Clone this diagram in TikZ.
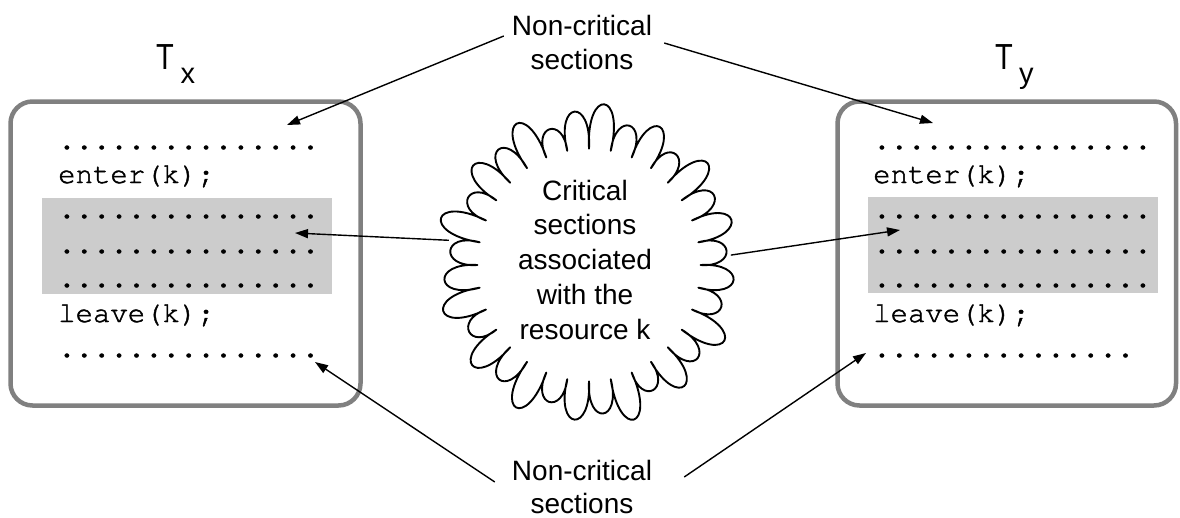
\documentclass[tikz,border=0pt]{standalone}
\usepackage{fontspec}
\setmainfont{Liberation Sans}
\setmonofont[FakeBold=1.6]{TeX Gyre Cursor}
\usetikzlibrary{shapes.geometric,arrows.meta}

\begin{document}
\begin{tikzpicture}[x=1pt,y=-1pt,
  lbl/.style={font=\fontsize{28}{34}\selectfont, align=center, inner sep=0pt},
  code/.style={font=\fontsize{29}{34}\selectfont\ttfamily, anchor=base west, inner sep=0pt},
  title/.style={font=\fontsize{29}{29}\selectfont, anchor=base west, inner sep=0pt},
  ptr/.style={line width=1.4pt, -{Triangle[length=13pt,width=9pt]}},
  thread/.style={draw=black!50, line width=4.5pt, rounded corners=22pt, inner sep=0pt},
  crit/.style={fill=black!20, draw=none, inner sep=0pt},
  burst/.style={line width=1.9pt, line join=round}]

\useasboundingbox (0,0) rectangle (1180,517);

% thread boxes
\node[thread, minimum width=350pt, minimum height=304pt] (tx) at (185.5,253.5) {};
\node[thread, minimum width=338.5pt, minimum height=304pt] (ty) at (1006.75,253.5) {};

% critical regions
\node[crit, minimum width=290pt, minimum height=96pt] (cx) at (187,246) {};
\node[crit, minimum width=290pt, minimum height=96pt] (cy) at (1013,245) {};

% thread names
\node[title] (txT) at (156,69) {\scalebox{1}[1.25]{T}};
\node[title] (txs) at (180.5,83) {x};
\node[title] (tyT) at (995,69) {\scalebox{1}[1.25]{T}};
\node[title] (tys) at (1019,83) {y};

% code lines of T_x
\foreach \i/\y/\t in {1/149/{...............},
                      2/183/{enter(k);},
                      3/218/{...............},
                      4/253/{...............},
                      5/287/{...............},
                      6/322/{leave(k);},
                      7/357/{...............}}
  \node[code] (L\i) at (58,\y) {\t};

% code lines of T_y
\foreach \i/\y/\t in {1/149/{................},
                      2/183/{enter(k);},
                      3/218/{................},
                      4/253/{................},
                      5/287/{................},
                      6/322/{leave(k);},
                      7/357/{...............}}
  \node[code] (R\i) at (873,\y) {\t};

% resource: an invisible ellipse carries the anchors, the lobed outline is drawn round it
\node[ellipse, minimum width=284pt, minimum height=296pt, inner sep=0pt] (cs) at (589,265) {};
\def\rx{136}\def\ry{142}
\begin{scope}[shift={(cs.center)}]
  \draw[burst] ({\rx*0.82},0)
    \foreach \k/\f [evaluate=\k as \a using \k*11.25, evaluate=\k as \b using (\k+1)*11.25]
      in {0/1.00,1/0.94,2/1.07,3/0.96,4/1.04,5/0.92,6/1.08,7/0.98,
          8/1.03,9/0.93,10/1.08,11/0.97,12/1.05,13/0.92,14/1.06,15/1.00,
          16/0.95,17/1.08,18/0.93,19/1.04,20/0.98,21/1.07,22/0.92,23/1.02,
          24/1.08,25/0.95,26/1.04,27/0.93,28/1.07,29/0.97,30/1.03,31/0.94}
    { .. controls ({\rx*\f*1.16*cos(\a-1)},{\ry*\f*1.16*sin(\a-1)})
         and ({\rx*\f*1.16*cos(\b+1)},{\ry*\f*1.16*sin(\b+1)})
      .. ({\rx*0.82*cos(\b)},{\ry*0.82*sin(\b)}) } -- cycle;
\end{scope}
\node[lbl, font=\fontsize{28}{34.75}\selectfont] (cstext) at (585,259.5)
  {Critical\\sections\\associated\\with the\\resource k};

% labels
\node[lbl] (ncTop) at (582,42) {Non-critical\\sections};
\node[lbl, font=\fontsize{28}{33}\selectfont] (ncBot) at (582,486.5) {Non-critical\\sections};

% arrow targets
\coordinate (pTopL) at (287,125);
\coordinate (pTopR) at (933,123);
\coordinate (pMidL) at (295,233);
\coordinate (pMidR) at (900,230);
\coordinate (pBotL) at (315,362);
\coordinate (pBotR) at (866,353);

\draw[ptr] ([shift={(-8,-6)}]ncTop.west) -- (pTopL);
\draw[ptr] ([shift={(12,1)}]ncTop.east) -- (pTopR);
\draw[ptr] (cs.170) -- (pMidL);
\draw[ptr] (cs.4) -- (pMidR);
\draw[ptr] ([shift={(-17,-4.5)}]ncBot.west) -- (pBotL);
\draw[ptr] ([shift={(32,-9.5)}]ncBot.east) -- (pBotR);
\end{tikzpicture}
\end{document}
